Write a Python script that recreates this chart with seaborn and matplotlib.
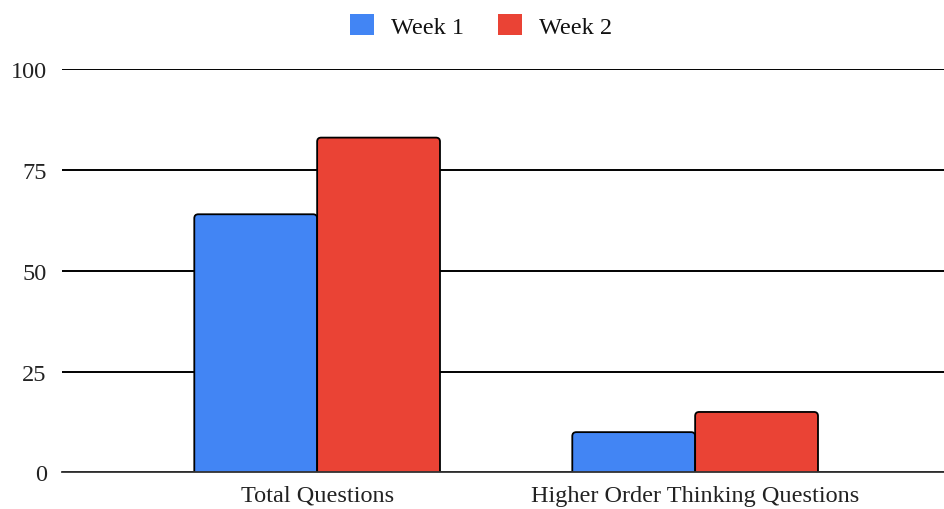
import matplotlib
matplotlib.use("Agg")
import matplotlib.pyplot as plt
import matplotlib.patches as mpatches
import seaborn as sns
import pandas as pd

categories = ["Total Questions", "Higher Order Thinking Questions"]
series_names = ["Week 1", "Week 2"]
week1 = [64, 10]
week2 = [83, 15]
y_ticks = [0, 25, 50, 75, 100]
colors = ["#4285F4", "#EA4335"]

df = pd.DataFrame({
    "category": categories * 2,
    "value": week1 + week2,
    "week": [series_names[0]] * 2 + [series_names[1]] * 2,
})

sns.set_theme(style="white")
plt.rcParams["font.family"] = ["Liberation Serif", "DejaVu Serif"]

FS = 17.5

fig = plt.figure(figsize=(9.45, 5.1), dpi=100)
ax = fig.add_axes([0.0656, 0.0716, 1 - 0.0656, 0.8627 - 0.0716])

sns.barplot(data=df, x="category", y="value", hue="week", order=categories,
            hue_order=series_names, palette=colors, width=0.65, gap=0,
            edgecolor="black", linewidth=1.3, saturation=1, ax=ax, legend=False,
            zorder=3)

ax.set_xlim(-0.675, 1.661)
ax.set_ylim(0, 100)
ax.set_yticks(y_ticks)
ax.grid(axis="y", color="black", linewidth=1.4, zorder=0)
ax.grid(axis="x", visible=False)
for s in ["left", "right", "top"]:
    ax.spines[s].set_visible(False)
ax.spines["bottom"].set_color("#333333")
ax.spines["bottom"].set_linewidth(1.3)
ax.spines["bottom"].set_zorder(5)
ax.set_xlabel("")
ax.set_ylabel("")
ax.tick_params(axis="y", length=0, pad=11, labelsize=FS, labelcolor="#222222")
ax.tick_params(axis="x", length=0, pad=9, labelsize=FS, labelcolor="#222222")

# rounded bar corners
px_x = 378.0
px_y = 4.035
r_px = 4.0
for p in list(ax.patches):
    if not isinstance(p, mpatches.Rectangle):
        continue
    x, y = p.get_x(), p.get_y()
    w, h = p.get_width(), p.get_height()
    fb = mpatches.FancyBboxPatch(
        (x, y - 3), w, h + 3,
        boxstyle=f"round,pad=0,rounding_size={r_px / px_x}",
        mutation_aspect=px_x / px_y,
        facecolor=p.get_facecolor(), edgecolor="black", linewidth=1.3,
        zorder=3)
    p.remove()
    ax.add_patch(fb)

handles = [mpatches.FancyBboxPatch((0, 0), 1, 1, boxstyle="round,pad=0,rounding_size=0.1",
                                   facecolor=c, edgecolor="none") for c in colors]
fig.legend(handles, series_names, loc="upper center", bbox_to_anchor=(0.509, 1.0),
           ncol=2, frameon=False, fontsize=FS, handlelength=1.0, handleheight=1.0,
           handletextpad=0.7, columnspacing=1.4, borderaxespad=0.2,
           labelcolor="#111111")

fig.savefig("out.png", dpi=100)
